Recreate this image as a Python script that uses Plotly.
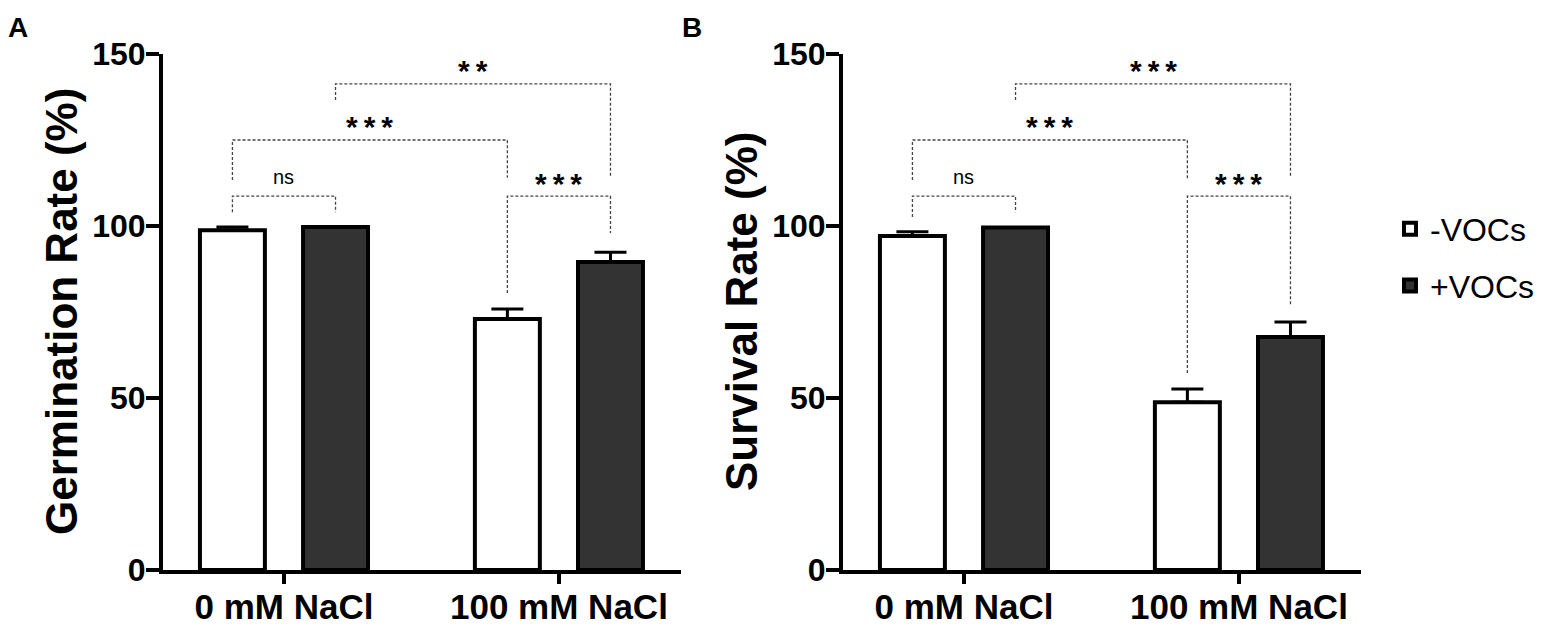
import plotly.graph_objects as go

# Data (mean and upper error, %)
categories = ['0 mM NaCl', '100 mM NaCl']
series_names = ['-VOCs', '+VOCs']

germ_minus = [98.8, 73.0]
germ_minus_err = [0.9, 2.9]
germ_plus = [99.7, 89.5]
germ_plus_err = [0.0, 2.9]

surv_minus = [97.1, 48.8]
surv_minus_err = [1.2, 3.8]
surv_plus = [99.6, 67.7]
surv_plus_err = [0.0, 4.4]

# Significance brackets: (left bar, right bar, label, bracket height, left end, right end)
# bars are numbered 0..3 from left to right
brackets_a = [(0, 1, 'ns', 108.7, 104.0, 104.0),
              (0, 2, '***', 125.0, 113.4, 114.0),
              (1, 3, '**', 141.3, 136.6, 114.0),
              (2, 3, '***', 108.7, 80.5, 98.0)]
brackets_b = [(0, 1, 'ns', 108.7, 102.6, 104.0),
              (0, 2, '***', 125.0, 113.4, 113.4),
              (1, 3, '***', 141.3, 136.6, 114.0),
              (2, 3, '***', 108.7, 57.3, 77.0)]

y_ticks = [0, 50, 100, 150]

FONT = 'Arial, Liberation Sans, sans-serif'
BARGAP = 0.25
BARGROUPGAP = 0.37
DARK = '#333333'
group_pos = list(range(len(categories)))


def bar_x(index):
    """ Position of a bar on the x axis from its index """
    group = group_pos[index // 2]
    offset = (1 - BARGAP) / 4
    return group + (offset if index % 2 else -offset)


def add_panel(fig, xref, yref, minus, minus_err, plus, plus_err, show_legend):
    """ Two grouped bar series with one-sided error bars """
    for name, vals, errs, fill in [(series_names[0], minus, minus_err, 'white'),
                                   (series_names[1], plus, plus_err, DARK)]:
        fig.add_trace(go.Bar(x=group_pos, y=vals, name=name,
                             xaxis=xref, yaxis=yref,
                             marker=dict(color=fill, line=dict(color='black', width=4)),
                             error_y=dict(type='data', array=errs,
                                          arrayminus=[0] * len(errs), symmetric=False,
                                          color='black', thickness=3, width=16),
                             showlegend=show_legend, legendgroup=name))


def add_brackets(fig, xref, yref, brackets):
    """ Dashed comparison brackets with their labels """
    for i, j, label, top, left_end, right_end in brackets:
        x0, x1 = bar_x(i), bar_x(j)
        fig.add_trace(go.Scatter(x=[x0, x0, x1, x1], y=[left_end, top, top, right_end],
                                 mode='lines', xaxis=xref, yaxis=yref,
                                 line=dict(color='#444444', width=1.3, dash='3px,2px'),
                                 showlegend=False, hoverinfo='skip'))
        if label == 'ns':
            fig.add_annotation(x=(x0 + x1) / 2, y=top, xref=xref, yref=yref,
                               text=label, showarrow=False, yanchor='middle', yshift=19,
                               font=dict(family=FONT, size=20, color='black'))
        else:
            stars = '\u2009'.join(label)
            fig.add_annotation(x=(x0 + x1) / 2, y=top, xref=xref, yref=yref,
                               text=stars, showarrow=False, yanchor='middle', yshift=13,
                               font=dict(family=FONT, size=30, color='black', weight='bold'))


fig = go.Figure()
add_panel(fig, 'x', 'y', germ_minus, germ_minus_err, germ_plus, germ_plus_err, True)
add_panel(fig, 'x2', 'y2', surv_minus, surv_minus_err, surv_plus, surv_plus_err, False)
add_brackets(fig, 'x', 'y', brackets_a)
add_brackets(fig, 'x2', 'y2', brackets_b)

# Shared axis styling
xaxis_style = dict(range=[-0.44, 1.444], tickvals=group_pos, ticktext=categories,
                   showline=True, linecolor='black', linewidth=4, ticks='outside',
                   ticklen=10, tickwidth=4, tickcolor='black', ticklabelstandoff=-7,
                   showgrid=False, zeroline=False,
                   tickfont=dict(family=FONT, size=35, color='black', weight='bold'),
                   automargin=False, fixedrange=True)
yaxis_style = dict(range=[0, 150], tickvals=y_ticks, showline=True,
                   linecolor='black', linewidth=4, ticks='outside', ticklen=13,
                   tickwidth=4, tickcolor='black', ticklabelstandoff=-6,
                   showgrid=False, zeroline=False,
                   tickfont=dict(family=FONT, size=32, color='black', weight='bold'),
                   domain=[0.08914, 0.92545], automargin=False, fixedrange=True)

# The page adds an 8px body margin, so the figure is 8px smaller each way
fig.update_layout(
    width=1554, height=617,
    margin=dict(l=0, r=0, t=0, b=0),
    paper_bgcolor='white', plot_bgcolor='white',
    barmode='group', bargap=BARGAP, bargroupgap=BARGROUPGAP,
    font=dict(family=FONT, color='black'),
    xaxis=dict(xaxis_style, domain=[0.09974, 0.43308], anchor='y'),
    xaxis2=dict(xaxis_style, domain=[0.53732, 0.87066], anchor='y2'),
    yaxis=dict(yaxis_style, anchor='x'),
    yaxis2=dict(yaxis_style, anchor='x2'),
    legend=dict(x=0.8893, y=0.5956, xanchor='left', yanchor='middle',
                font=dict(family=FONT, size=32, color='black'),
                traceorder='grouped', tracegroupgap=12, bgcolor='rgba(0,0,0,0)'),
)

# Axis titles and panel letters
fig.add_annotation(text='Germination Rate (%)', x=0.03475, y=0.5073,
                   xref='paper', yref='paper', xanchor='center', yanchor='middle',
                   textangle=-90, showarrow=False,
                   font=dict(family=FONT, size=44, color='black', weight='bold'))
fig.add_annotation(text='Survival Rate (%)', x=0.47233, y=0.5073,
                   xref='paper', yref='paper', xanchor='center', yanchor='middle',
                   textangle=-90, showarrow=False,
                   font=dict(family=FONT, size=44, color='black', weight='bold'))
fig.add_annotation(text='A', x=0.00644, y=0.9676, xref='paper', yref='paper',
                   xanchor='center', yanchor='middle', showarrow=False,
                   font=dict(family=FONT, size=28, color='black', weight='bold'))
fig.add_annotation(text='B', x=0.44015, y=0.9676, xref='paper', yref='paper',
                   xanchor='center', yanchor='middle', showarrow=False,
                   font=dict(family=FONT, size=28, color='black', weight='bold'))

fig.write_html('out.html')
